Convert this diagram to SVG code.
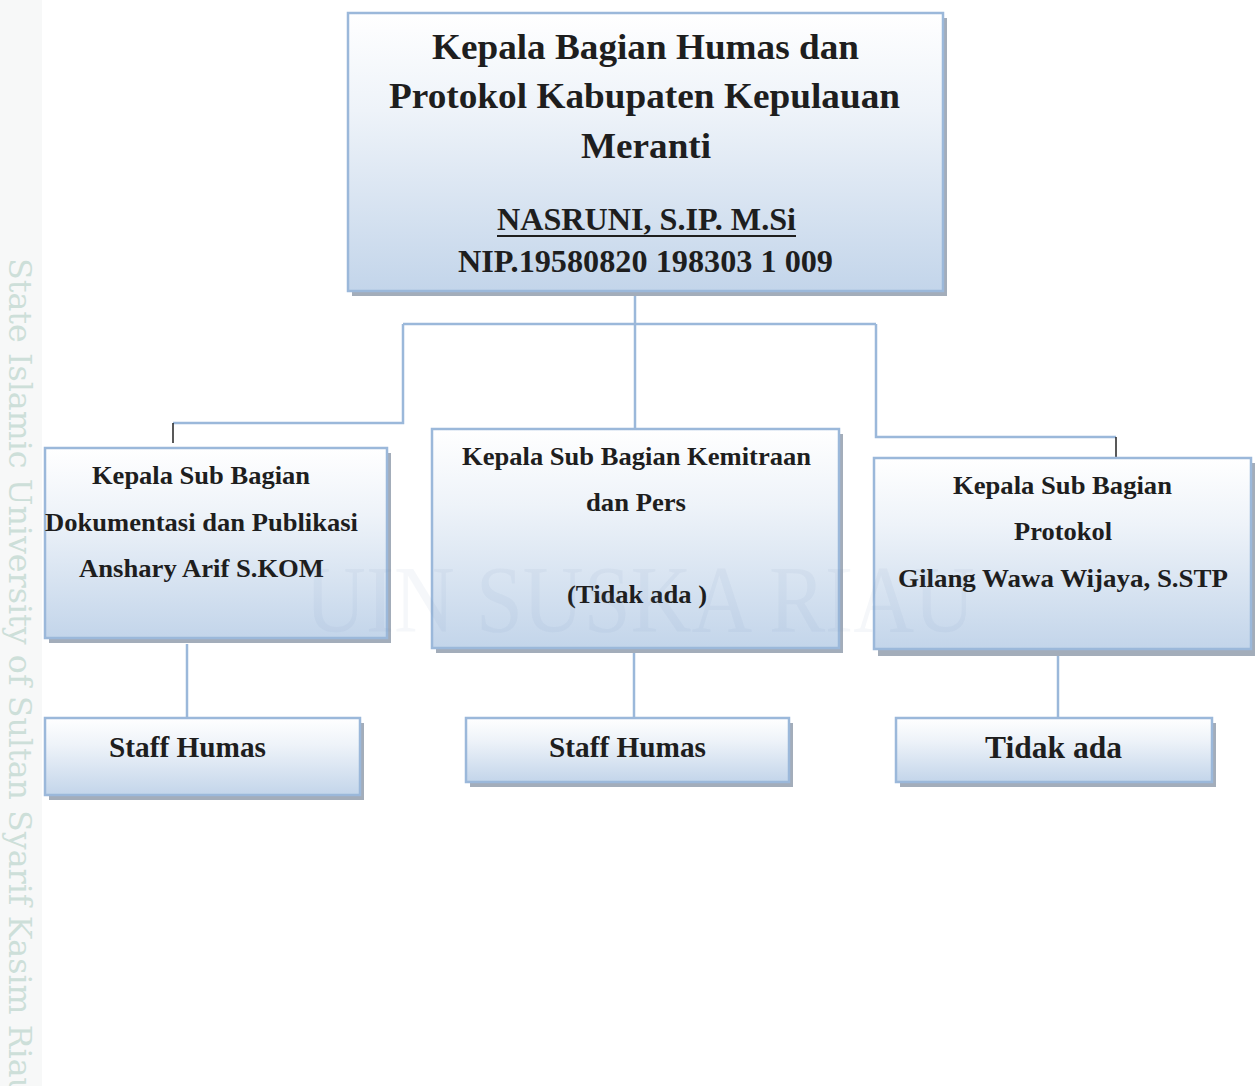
<svg xmlns="http://www.w3.org/2000/svg" width="1256" height="1086" viewBox="0 0 1256 1086">
<defs>
<linearGradient id="fillGrad" x1="0" y1="0" x2="0" y2="1">
<stop offset="0" stop-color="#ffffff"/>
<stop offset="0.35" stop-color="#eef3f9"/>
<stop offset="1" stop-color="#c3d5ea"/>
</linearGradient>
<style>
.box{fill:url(#fillGrad);stroke:#9bb8da;stroke-width:2.5}
.shadow{fill:#a3adba}
.t{font-family:"Liberation Serif","Times New Roman",serif;font-weight:bold;fill:#1e1e1e;text-anchor:middle}
.conn{fill:none;stroke:#9bb8da;stroke-width:2.5}
.tick{fill:none;stroke:#222;stroke-width:1.5}
.wm{font-family:"Liberation Serif","Times New Roman",serif;fill:#6f8fb5;fill-opacity:0.07}
.side{font-family:"DejaVu Serif","Liberation Serif",serif;fill:#cddfd9}
</style>
</defs>
<rect x="0" y="0" width="1256" height="1086" fill="#ffffff"/>
<rect x="0" y="0" width="42" height="1086" fill="#f7f8f8"/>
<text class="side" font-size="31" transform="translate(9,258) rotate(90)" textLength="840" lengthAdjust="spacingAndGlyphs">State Islamic University of Sultan Syarif Kasim Riau</text>

<g id="connectors">
<path class="conn" d="M635 291 V429"/>
<path class="conn" d="M403 324 H876"/>
<path class="conn" d="M403 324 V423 H173"/>
<path class="tick" d="M173 423 V443"/>
<path class="conn" d="M876 324 V437 H1116"/>
<path class="tick" d="M1116 437 V457"/>
<path class="conn" d="M187 644 V718"/>
<path class="conn" d="M634 652 V718"/>
<path class="conn" d="M1058 656 V718"/>
</g>

<g id="node-kepala-bagian">
<rect class="shadow" x="352" y="18" width="595" height="278"/>
<rect class="box" x="348" y="13" width="595" height="278"/>
<text class="t" x="645.5" y="59" font-size="36" textLength="427" lengthAdjust="spacingAndGlyphs">Kepala Bagian Humas dan</text>
<text class="t" x="644.5" y="108" font-size="36" textLength="511" lengthAdjust="spacingAndGlyphs">Protokol Kabupaten Kepulauan</text>
<text class="t" x="646" y="158" font-size="36" textLength="130" lengthAdjust="spacingAndGlyphs">Meranti</text>
<text class="t" x="646.5" y="230" font-size="31" textLength="299" lengthAdjust="spacingAndGlyphs">NASRUNI, S.IP. M.Si</text>
<line x1="497" y1="236" x2="796" y2="236" stroke="#1e1e1e" stroke-width="2"/>
<text class="t" x="645.5" y="272" font-size="31" textLength="375" lengthAdjust="spacingAndGlyphs">NIP.19580820 198303 1 009</text>
</g>

<g id="node-dokumentasi">
<rect class="shadow" x="49" y="453" width="342" height="190"/>
<rect class="box" x="45" y="448" width="342" height="190"/>
<text class="t" x="201" y="484" font-size="26" textLength="218" lengthAdjust="spacingAndGlyphs">Kepala Sub Bagian</text>
<text class="t" x="201.5" y="531" font-size="26" textLength="313" lengthAdjust="spacingAndGlyphs">Dokumentasi dan Publikasi</text>
<text class="t" x="201.5" y="577" font-size="26" textLength="245" lengthAdjust="spacingAndGlyphs">Anshary Arif S.KOM</text>
</g>

<g id="node-kemitraan">
<rect class="shadow" x="436" y="434" width="407" height="219"/>
<rect class="box" x="432" y="429" width="407" height="219"/>
<text class="t" x="636.5" y="465" font-size="26" textLength="349" lengthAdjust="spacingAndGlyphs">Kepala Sub Bagian Kemitraan</text>
<text class="t" x="636" y="511" font-size="26" textLength="100" lengthAdjust="spacingAndGlyphs">dan Pers</text>
<text class="t" x="637" y="603" font-size="26" textLength="140" lengthAdjust="spacingAndGlyphs">(Tidak ada )</text>
</g>

<g id="node-protokol">
<rect class="shadow" x="878" y="463" width="377" height="193"/>
<rect class="box" x="874" y="458" width="377" height="191"/>
<text class="t" x="1062.5" y="494" font-size="26" textLength="219" lengthAdjust="spacingAndGlyphs">Kepala Sub Bagian</text>
<text class="t" x="1063" y="540" font-size="26" textLength="98" lengthAdjust="spacingAndGlyphs">Protokol</text>
<text class="t" x="1063" y="587" font-size="26" textLength="330" lengthAdjust="spacingAndGlyphs">Gilang Wawa Wijaya, S.STP</text>
</g>

<g id="node-staff-1">
<rect class="shadow" x="49" y="723" width="315" height="77"/>
<rect class="box" x="45" y="718" width="315" height="77"/>
<text class="t" x="187.5" y="757" font-size="29" textLength="157" lengthAdjust="spacingAndGlyphs">Staff Humas</text>
</g>

<g id="node-staff-2">
<rect class="shadow" x="470" y="723" width="323" height="64"/>
<rect class="box" x="466" y="718" width="323" height="64"/>
<text class="t" x="627.5" y="757" font-size="29" textLength="157" lengthAdjust="spacingAndGlyphs">Staff Humas</text>
</g>

<g id="node-tidak-ada">
<rect class="shadow" x="900" y="723" width="316" height="64"/>
<rect class="box" x="896" y="718" width="316" height="64"/>
<text class="t" x="1053.5" y="758" font-size="31" textLength="137" lengthAdjust="spacingAndGlyphs">Tidak ada</text>
</g>

<text class="wm" x="640" y="632" font-size="96" text-anchor="middle" textLength="670" lengthAdjust="spacingAndGlyphs">UIN SUSKA RIAU</text>
</svg>
